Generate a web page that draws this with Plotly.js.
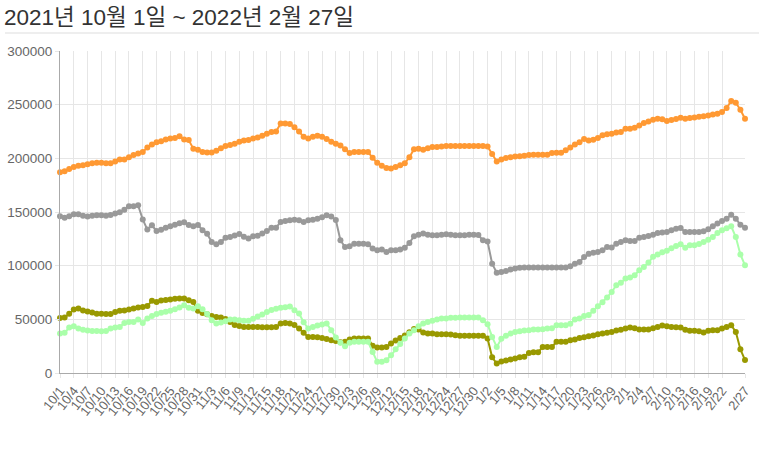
<!DOCTYPE html>
<html><head><meta charset="utf-8">
<script src="https://cdn.plot.ly/plotly-3.0.1.min.js"></script>
<style>html,body{margin:0;padding:0;background:#fff;}</style>
</head><body><div id="chart" style="width:759px;height:453px;"></div>
<script>
const dates = [
"10/1","10/2","10/3","10/4","10/5","10/6","10/7","10/8","10/9","10/10","10/11","10/12","10/13","10/14","10/15","10/16","10/17","10/18","10/19","10/20","10/21","10/22","10/23","10/24","10/25","10/26","10/27","10/28","10/29","10/30","10/31",
"11/1","11/2","11/3","11/4","11/5","11/6","11/7","11/8","11/9","11/10","11/11","11/12","11/13","11/14","11/15","11/16","11/17","11/18","11/19","11/20","11/21","11/22","11/23","11/24","11/25","11/26","11/27","11/28","11/29","11/30",
"12/1","12/2","12/3","12/4","12/5","12/6","12/7","12/8","12/9","12/10","12/11","12/12","12/13","12/14","12/15","12/16","12/17","12/18","12/19","12/20","12/21","12/22","12/23","12/24","12/25","12/26","12/27","12/28","12/29","12/30","12/31",
"1/1","1/2","1/3","1/4","1/5","1/6","1/7","1/8","1/9","1/10","1/11","1/12","1/13","1/14","1/15","1/16","1/17","1/18","1/19","1/20","1/21","1/22","1/23","1/24","1/25","1/26","1/27","1/28","1/29","1/30","1/31",
"2/1","2/2","2/3","2/4","2/5","2/6","2/7","2/8","2/9","2/10","2/11","2/12","2/13","2/14","2/15","2/16","2/17","2/18","2/19","2/20","2/21","2/22","2/23","2/24","2/25","2/26","2/27"];

const tickLabels = ["10/1","10/4","10/7","10/10","10/13","10/16","10/19","10/22","10/25","10/28","10/31",
"11/3","11/6","11/9","11/12","11/15","11/18","11/21","11/24","11/27","11/30",
"12/3","12/6","12/9","12/12","12/15","12/18","12/21","12/24","12/27","12/30",
"1/2","1/5","1/8","1/11","1/14","1/17","1/20","1/23","1/26","1/29",
"2/1","2/4","2/7","2/10","2/13","2/16","2/19","2/22","2/27"];

const seriesOrange = [
187000,188000,190000,192000,193000,193500,194500,195500,196000,196000,195500,195500,197000,199000,199000,201000,203000,204500,206000,210000,213000,215000,216000,217500,218500,219000,220500,217500,217000,209000,208000,
206000,205500,205500,207000,209500,211500,212500,213500,215500,216500,217000,218500,219500,221000,223000,224500,225000,232500,232500,232000,229000,225000,220000,218500,220000,221000,220000,218000,215500,213500,212000,
208500,205000,206000,206000,206000,206000,200500,196000,193000,191000,190500,192000,193500,195500,201000,208500,209000,208000,209500,210500,210500,211000,211500,211500,211500,211500,211500,211500,211500,211500,
211500,211000,204000,197000,199000,200300,201000,201800,202000,202500,203000,203400,203400,203400,203400,205000,205300,205300,207500,210000,213000,215000,218000,216700,217400,219000,221400,222500,223000,224000,224500,
227600,227600,228600,230700,232900,234400,236000,236900,236300,234700,235600,236600,237800,236900,237500,238100,238700,239300,240000,240800,241500,243100,246800,253400,251800,245300,236900];

const seriesGray = [
146000,144700,146000,147800,147800,146600,145700,146600,146900,146900,146600,147200,148500,149700,152000,155300,155300,156200,143000,133600,137600,132300,133500,135400,136700,138200,139500,140400,138000,136700,138000,
133000,129800,122000,120000,122000,126000,126700,128000,129500,127000,125200,127300,127800,130000,132300,135400,135400,140700,141600,142200,142800,142200,140700,142200,142800,143800,145000,146900,145900,142500,123600,
117400,118100,120500,120500,120500,119900,115900,114300,115000,112800,114300,114300,115000,116800,121200,127400,128900,129900,128900,128300,128300,128900,129200,128900,128300,128300,128300,128900,128900,128500,
123600,122500,101900,93500,94200,95100,96400,97300,98000,98300,98300,98300,98300,98300,98300,98300,98300,98300,98300,99500,101900,103500,108000,111000,112000,112800,114300,117500,117000,120500,122000,
123600,123000,123000,126100,126700,127700,128900,130500,130800,131400,133000,134500,135100,131400,131400,131400,131400,132000,133900,136700,139200,141600,143800,147500,143800,138200,135400];

const seriesGreen = [
36700,37400,42300,43600,41400,40400,39700,39100,39100,38800,39100,41400,42300,42900,46700,47600,47600,49900,46700,50800,53000,54900,56100,57100,58000,59300,61000,63100,60900,60000,62200,
59300,54900,49200,46100,47000,48300,49900,49900,49200,48600,48600,50500,52700,54600,56800,58700,59900,60800,61300,61900,58500,55400,47300,41400,42900,44200,45100,46100,39900,33000,28100,
24900,28100,29000,29000,29000,29000,19600,10400,10400,11900,16500,22100,27000,32200,36700,39900,43600,46100,47600,48600,49900,50800,50800,51500,51500,51800,51800,51800,51800,51800,
49200,45500,33600,24300,32000,34600,36700,38300,38900,39600,39900,40500,40500,40800,41400,41700,44500,44500,44500,45800,49900,50800,53000,54000,57900,62200,65900,70300,75500,81700,84000,
88000,88900,91100,95700,98800,102900,108200,110300,112500,114000,116200,118400,119900,116800,119000,119000,120200,122100,124200,126700,130400,132900,134800,136700,126700,110500,100300];

const seriesOlive = [
51300,51600,55300,59100,60000,58200,57200,56300,55300,55300,55000,55000,56900,57900,58200,59100,60000,61000,61600,62500,67200,66200,67500,68100,68400,69100,69400,69400,67800,66200,57900,
55900,54700,53000,52200,51600,50400,47600,44800,43800,42900,42900,42900,42900,42600,42600,42600,42900,46100,46700,46100,44800,41400,37400,33600,33600,33300,32700,31700,30500,29900,28700,
29000,31200,32200,32200,32200,32200,25500,23700,23700,24300,27400,30200,32700,34900,38000,41100,40500,37700,36700,36700,36100,36100,36100,35800,35200,34600,34600,34600,34600,34600,
34600,32200,14600,8800,10700,11600,12600,13600,14600,15200,18700,19400,19400,24300,24300,24300,29000,29000,29000,30500,31200,32700,33300,34300,34900,36100,36700,37400,38300,39600,40200,
41400,42300,41700,40500,40500,40500,41700,42900,44200,43500,42900,42600,42300,40200,39300,39300,39000,37700,39300,39900,39900,41400,42900,44500,38300,22100,12000];

const FONT = "Liberation Sans, Arial, Noto Sans CJK KR, sans-serif";

function mk(y, color, name) {
  return {
    type: 'scatter', mode: 'lines+markers', x: dates, y: y, name: name,
    line: {color: color, width: 2},
    marker: {color: color, size: 6},
    cliponaxis: false, hoverinfo: 'skip'
  };
}

const traces = [
  mk(seriesOlive, '#999900', 'olive'),
  mk(seriesGreen, '#aaffaa', 'green'),
  mk(seriesGray, '#999999', 'gray'),
  mk(seriesOrange, '#ff9933', 'orange')
];

const layout = {
  width: 759, height: 453,
  margin: {l: 60, r: 14, t: 51, b: 80, pad: 0},
  paper_bgcolor: '#fff', plot_bgcolor: '#fff',
  showlegend: false,
  font: {family: FONT, color: '#666', size: 13},
  title: {
    text: '2021년 10월 1일 ~ 2022년 2월 27일',
    font: {family: FONT, size: 22.5, color: '#333'},
    x: 4/759, xref: 'container', xanchor: 'left',
    y: 1 - 17/453, yref: 'container', yanchor: 'middle'
  },
  xaxis: {
    type: 'category', range: [0, 149],
    tickmode: 'array', tickvals: tickLabels, ticktext: tickLabels,
    tickangle: -52, tickfont: {size: 13, color: '#666'},
    showgrid: true, gridcolor: '#e6e6e6', gridwidth: 1,
    showline: true, linecolor: '#aaaaaa', linewidth: 1,
    ticks: 'outside', ticklen: 4, tickcolor: '#e6e6e6',
    zeroline: false, fixedrange: true
  },
  yaxis: {
    range: [0, 300000], tickmode: 'linear', tick0: 0, dtick: 50000,
    tickformat: 'd', tickfont: {size: 13.5, color: '#666'},
    showgrid: true, gridcolor: '#e6e6e6', gridwidth: 1,
    showline: true, linecolor: '#aaaaaa', linewidth: 1,
    ticks: 'outside', ticklen: 4, tickcolor: '#e6e6e6',
    zeroline: false, fixedrange: true
  },
  shapes: [{
    type: 'line', xref: 'paper', yref: 'paper',
    x0: (5 - 60) / 685, x1: (759 - 60) / 685,
    y0: (372 - 32) / 322, y1: (372 - 32) / 322,
    line: {color: '#dddddd', width: 1}
  }]
};

Plotly.newPlot('chart', traces, layout, {displayModeBar: false, staticPlot: true});
</script></body></html>
